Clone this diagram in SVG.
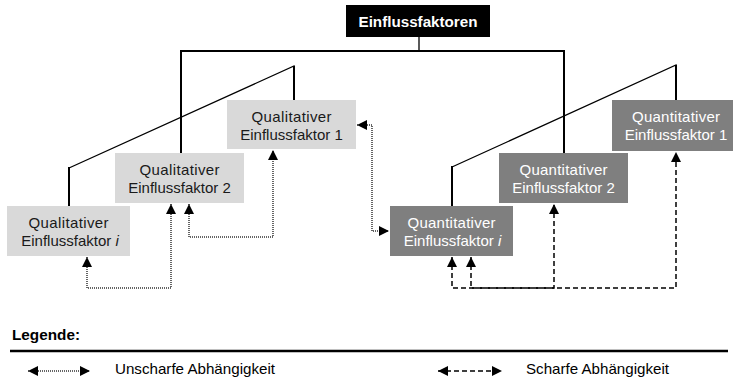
<svg xmlns="http://www.w3.org/2000/svg" width="733" height="378" viewBox="0 0 733 378">
  <style>
    text { font-family: "Liberation Sans", Arial, sans-serif; font-size: 15px; }
    .title { font-weight: bold; font-size: 14.5px; fill: #ffffff; text-anchor: middle; }
    .ql rect { fill: #d9d9d9; }
    .ql text { fill: #1a1a1a; text-anchor: middle; }
    .qn rect { fill: #7f7f7f; }
    .qn text { fill: #ffffff; text-anchor: middle; }
    .tree { fill: none; stroke: #000; stroke-width: 2; }
    .thin { fill: none; stroke: #000; stroke-width: 1.3; }
    .dotted { fill: none; stroke: #333; stroke-width: 1.5; stroke-dasharray: 1 1; marker-start: url(#arr); marker-end: url(#arr); }
    .dashed { fill: none; stroke: #000; stroke-width: 1.5; stroke-dasharray: 5 3; marker-start: url(#arr); marker-end: url(#arr); }
    .legend { fill: #000; }
  </style>
  <defs>
    <marker id="arr" markerUnits="userSpaceOnUse" viewBox="0 0 10 10" refX="10" refY="5" markerWidth="10" markerHeight="10" orient="auto-start-reverse">
      <path d="M0,0 L10,5 L0,10 z" fill="#000"/>
    </marker>
  </defs>

  <!-- root -->
  <g id="root">
    <rect x="346" y="5" width="144" height="32" fill="#000"/>
    <text class="title" x="418" y="27" textLength="119" lengthAdjust="spacingAndGlyphs">Einflussfaktoren</text>
  </g>

  <!-- hierarchy lines and dependencies -->
  <g id="connectors">
    <path class="thin" d="M419,37 V51"/>
    <path class="tree" d="M181,153 V51 H564 V153"/>
    <path class="thin" d="M294,100 V66 L69,168"/>
    <path class="tree" d="M294,100 V66"/>
    <path class="tree" d="M69,167 V206"/>
    <path class="thin" d="M676,100 V65 L452,167"/>
    <path class="tree" d="M676,100 V65"/>
    <path class="tree" d="M452,166 V206"/>

    <!-- fuzzy dependencies -->
    <path class="dotted" d="M357,125 H372 V231 H389"/>
    <path class="dotted" d="M189,204 V237 H273 V150"/>
    <path class="dotted" d="M171,204 V288 H87 V257"/>

    <!-- sharp dependencies -->
    <path class="dashed" d="M452,257 V288 H676 V152"/>
    <path class="dashed" d="M471,257 V288 H554 V204"/>
  </g>

  <!-- qualitative factors -->
  <g id="ql1" class="ql">
    <rect x="227" y="100" width="129" height="49"/>
    <text x="291.5" y="122" textLength="80" lengthAdjust="spacing">Qualitativer</text>
    <text x="291.5" y="140">Einflussfaktor 1</text>
  </g>
  <g id="ql2" class="ql">
    <rect x="115" y="153" width="129" height="50"/>
    <text x="179.5" y="175" textLength="80" lengthAdjust="spacing">Qualitativer</text>
    <text x="179.5" y="193">Einflussfaktor 2</text>
  </g>
  <g id="qli" class="ql">
    <rect x="7" y="206" width="123" height="50"/>
    <text x="68.5" y="228" textLength="80" lengthAdjust="spacing">Qualitativer</text>
    <text x="70" y="246">Einflussfaktor <tspan font-style="italic">i</tspan></text>
  </g>

  <!-- quantitative factors -->
  <g id="qn1" class="qn">
    <rect x="612" y="100" width="129" height="51"/>
    <text x="676" y="122" textLength="88" lengthAdjust="spacing">Quantitativer</text>
    <text x="676" y="140">Einflussfaktor 1</text>
  </g>
  <g id="qn2" class="qn">
    <rect x="499" y="153" width="129" height="50"/>
    <text x="563.5" y="175" textLength="88" lengthAdjust="spacing">Quantitativer</text>
    <text x="563.5" y="193">Einflussfaktor 2</text>
  </g>
  <g id="qni" class="qn">
    <rect x="390" y="206" width="123" height="50"/>
    <text x="451.5" y="228" textLength="88" lengthAdjust="spacing">Quantitativer</text>
    <text x="452.5" y="246">Einflussfaktor <tspan font-style="italic">i</tspan></text>
  </g>

  <!-- legend -->
  <g id="legend">
    <text class="legend" x="12" y="340" font-weight="bold" textLength="68" lengthAdjust="spacingAndGlyphs">Legende:</text>
    <path d="M10,351 H728" stroke="#000" stroke-width="2.5"/>
    <path class="dotted" d="M28,371 H90"/>
    <text class="legend" x="115" y="374" textLength="160" lengthAdjust="spacingAndGlyphs">Unscharfe Abhängigkeit</text>
    <path class="dashed" d="M438,371 H502"/>
    <text class="legend" x="526" y="374" textLength="143" lengthAdjust="spacingAndGlyphs">Scharfe Abhängigkeit</text>
  </g>
</svg>
